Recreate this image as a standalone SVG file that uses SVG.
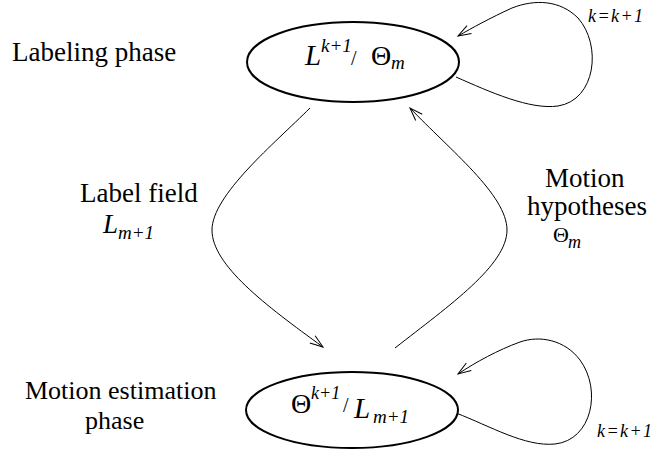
<svg xmlns="http://www.w3.org/2000/svg" width="654" height="452" viewBox="0 0 654 452">
<defs>
<marker id="arr" markerUnits="userSpaceOnUse" markerWidth="16" markerHeight="12" viewBox="-14 -6 16 12" refX="0" refY="0" orient="auto">
<path d="M-13,-4.5 L0,0 L-13,4.5" fill="none" stroke="#000" stroke-width="1"/>
</marker>
</defs>
<style>
.lbl{font-size:27px;}
.it{font-style:italic;}
.node{fill:#fff;stroke:#000;stroke-width:2;}
.edge{fill:none;stroke:#000;stroke-width:1;}
</style>
<rect width="654" height="452" fill="#fff"/>
<g id="connectors">
<path class="edge" d="M310,108 C275,143 212,195 212,230 C212,265 265,305 323,347" marker-end="url(#arr)"/>
<path class="edge" d="M395,348 C450,305 507,265 507,230 C507,195 450,150 410,108" marker-end="url(#arr)"/>
<path class="edge" d="M456,77 C490,92 530,110 558,106 C596,100 602,45 578,18 C560,0 535,-1 512,8 C490,18 472,28 458,36" marker-end="url(#arr)"/>
<path class="edge" d="M456,413 C490,426 525,447 555,444 C592,440 602,390 580,360 C565,340 540,335 520,342 C498,350 476,362 458,374" marker-end="url(#arr)"/>
</g>
<g font-family="Liberation Serif, Times New Roman, serif" fill="#000">
<g id="labeling">
<ellipse class="node" cx="353" cy="62" rx="106" ry="40"/>
<text class="it" x="305" y="65" font-size="29">L</text>
<text class="it" x="321" y="52" font-size="19">k+1</text>
<text x="351" y="65" font-size="20">/</text>
<text x="371" y="65" font-size="28">Θ</text>
<text class="it" x="391" y="69" font-size="19">m</text>
</g>
<g id="motion">
<ellipse class="node" cx="352" cy="410" rx="106" ry="38"/>
<text x="291" y="413" font-size="28">Θ</text>
<text class="it" x="311" y="399" font-size="18">k+1</text>
<text x="343" y="412" font-size="20">/</text>
<text class="it" x="354" y="418" font-size="29">L</text>
<text class="it" x="373" y="423" font-size="19">m+1</text>
</g>
<g id="labels">
<text class="lbl" x="12" y="61">Labeling phase</text>
<text x="25" y="399" font-size="26">Motion estimation</text>
<text x="85" y="429" font-size="26">phase</text>
<text class="lbl" x="80" y="202">Label field</text>
<text class="it" x="103" y="233" font-size="27">L</text>
<text class="it" x="118" y="239" font-size="19">m+1</text>
<text class="lbl" x="545" y="187">Motion</text>
<text class="lbl" x="527" y="215">hypotheses</text>
<text x="553" y="242" font-size="22">Θ</text>
<text class="it" x="568" y="248" font-size="18">m</text>
<text class="it" x="588" y="22" font-size="18" textLength="55" lengthAdjust="spacing">k=k+1</text>
<text class="it" x="597" y="437" font-size="18" textLength="55" lengthAdjust="spacing">k=k+1</text>
</g>
</g>
</svg>
